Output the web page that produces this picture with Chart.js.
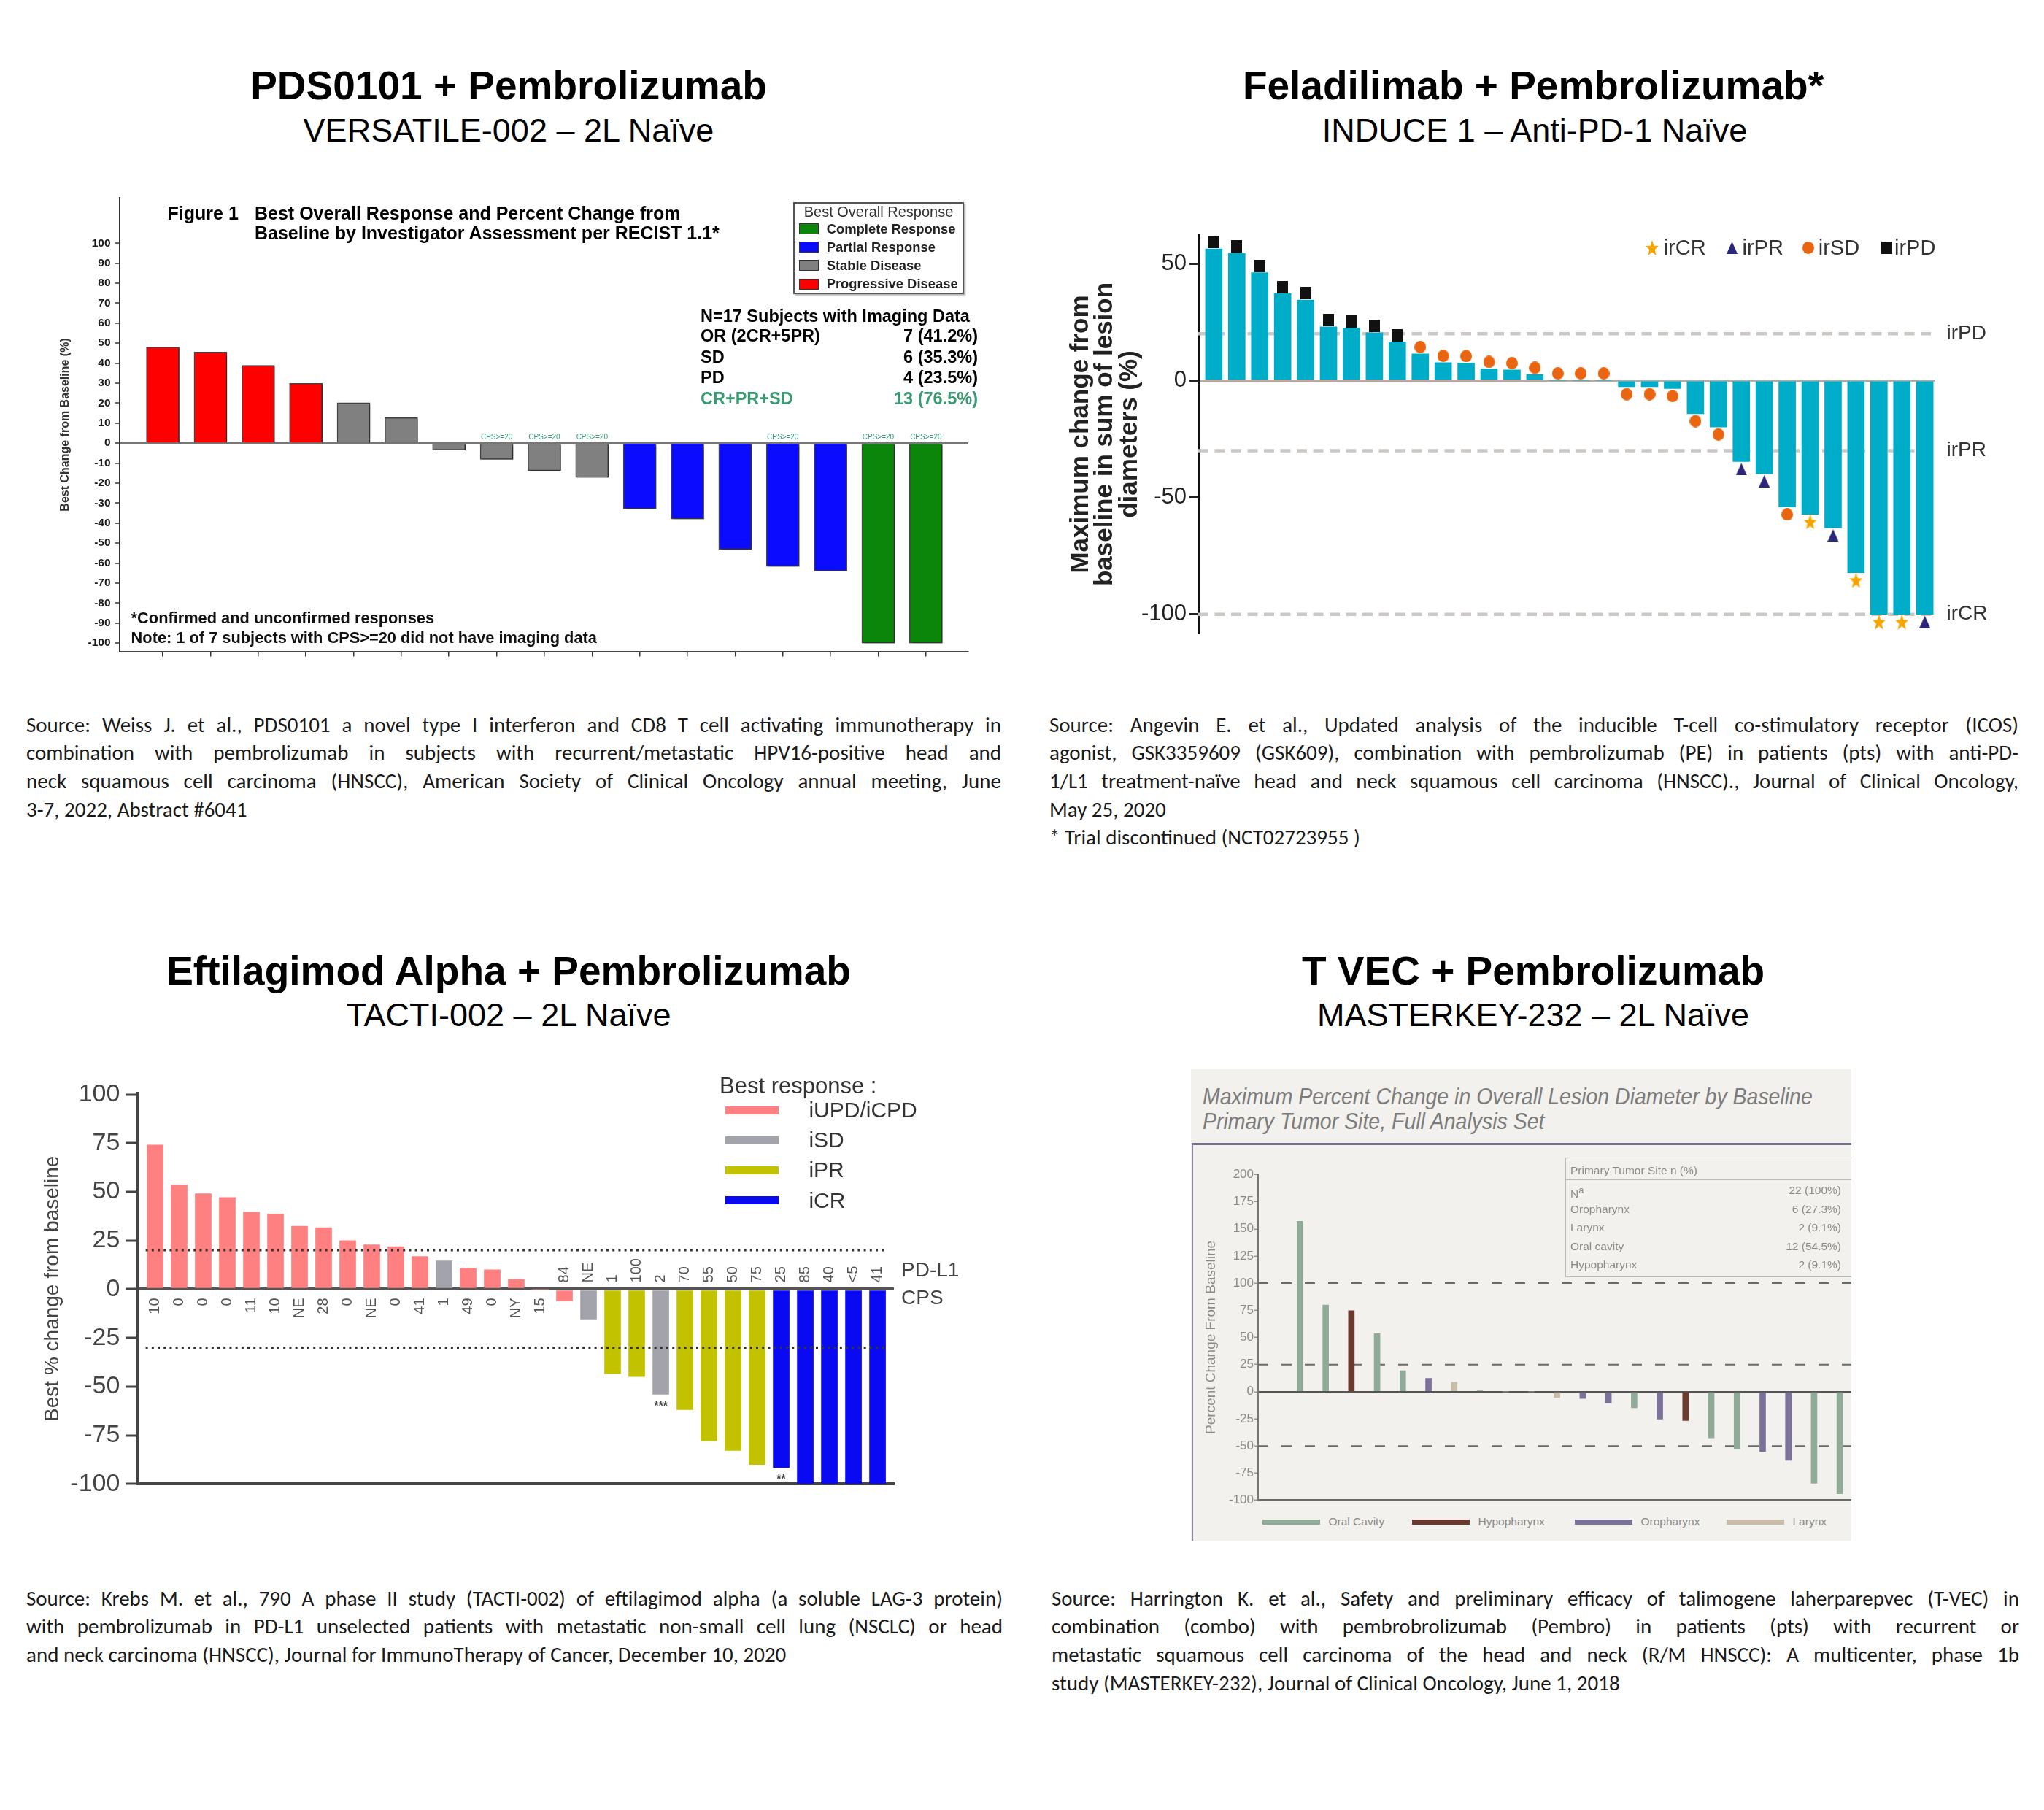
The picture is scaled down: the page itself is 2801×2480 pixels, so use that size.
<!DOCTYPE html>
<html lang="en">
<head>
<meta charset="utf-8">
<title>HNSCC waterfall plots</title>
<script src="https://cdn.jsdelivr.net/npm/chart.js@4.4.1/dist/chart.umd.min.js"></script>
<style>
  html, body { margin: 0; padding: 0; background: #fff; }
  body { position: relative; width: 2801px; height: 2480px; overflow: hidden;
         font-family: "Liberation Sans", Arial, sans-serif; color: #000; }
  .abs { position: absolute; white-space: nowrap; }
  canvas { position: absolute; }
  .title { font-size: 55px; font-weight: bold; line-height: 1; transform: translateX(-50%); }
  .subtitle { font-size: 45px; line-height: 1; transform: translateX(-50%); }
  .src { position: absolute; font-family: Carlito, Lato, "Liberation Sans", sans-serif; font-size: 29px; color: #1a1a1a; }
  .src div { height: 38.7px; line-height: 38.7px; white-space: nowrap; }
  .fig { font: bold 25px "Liberation Sans", Arial, sans-serif; line-height: 30px; }
  .b23 { font: bold 23.5px "Liberation Sans", Arial, sans-serif; line-height: 28.2px; }
  .stat { left: 960px; width: 380px; display: flex; justify-content: space-between; }
  .foot { left: 179.6px; font: bold 21.8px "Liberation Sans", Arial, sans-serif; line-height: 26.2px; color: #111; }
  #tvecBox { position: absolute; left: 1632px; top: 1465px; width: 905px; height: 646px; overflow: hidden; background: #f2f1ed; }
  .t4 { color: #8a8a8a; font-size: 15.5px; line-height: 18.6px; }
  .t4title { font-size: 32px; line-height: 38.4px; font-style: italic; color: #7c7c7c; transform: scaleX(0.89); transform-origin: left center; }
</style>
</head>
<body>

<!-- headings -->
<div class="abs title" style="left:697px; top:90px">PDS0101 + Pembrolizumab</div>
<div class="abs subtitle" style="left:697px; top:156px">VERSATILE-002 – 2L Naïve</div>
<div class="abs title" style="left:2101px; top:90px">Feladilimab + Pembrolizumab*</div>
<div class="abs subtitle" style="left:2103px; top:156px">INDUCE 1 – Anti-PD-1 Naïve</div>
<div class="abs title" style="left:697px; top:1303px">Eftilagimod Alpha + Pembrolizumab</div>
<div class="abs subtitle" style="left:697px; top:1368px">TACTI-002 – 2L Naïve</div>
<div class="abs title" style="left:2101px; top:1303px">T VEC + Pembrolizumab</div>
<div class="abs subtitle" style="left:2101px; top:1368px">MASTERKEY-232 – 2L Naïve</div>

<!-- chart 1 -->
<canvas id="pds" width="1300" height="660" style="left:60px; top:255px"></canvas>
<div class="abs fig" style="left:229.6px; top:276.6px">Figure 1</div>
<div class="abs fig" style="left:349px; top:276.6px">Best Overall Response and Percent Change from</div>
<div class="abs fig" style="left:349px; top:304px">Baseline by Investigator Assessment per RECIST 1.1*</div>
<div class="abs" id="pdsLegend" style="left:1087px; top:277px; width:230px; height:122px; border:2px solid #555; background:#fff; box-shadow:2px 2px 2px rgba(0,0,0,0.3)">
  <div class="abs" style="left:0; width:230px; text-align:center; top:-1.5px; font-size:20px; line-height:24px; color:#333">Best Overall Response</div>
</div>
<div class="abs b23" style="left:960px; top:418.5px">N=17 Subjects with Imaging Data</div>
<div class="abs b23 stat" style="top:445.9px"><span>OR (2CR+5PR)</span><span>7 (41.2%)</span></div>
<div class="abs b23 stat" style="top:474.9px"><span>SD</span><span>6 (35.3%)</span></div>
<div class="abs b23 stat" style="top:502.6px"><span>PD</span><span>4 (23.5%)</span></div>
<div class="abs b23 stat" style="top:531.9px; color:#3a9a72"><span>CR+PR+SD</span><span>13 (76.5%)</span></div>
<div class="abs foot" style="top:833.9px">*Confirmed and unconfirmed responses</div>
<div class="abs foot" style="top:861.4px">Note: 1 of 7 subjects with CPS&gt;=20 did not have imaging data</div>

<!-- chart 2 -->
<canvas id="felad" width="1350" height="590" style="left:1440px; top:300px"></canvas>
<div id="feladLegend"></div>

<!-- chart 3 -->
<canvas id="tacti" width="1320" height="600" style="left:20px; top:1470px"></canvas>
<div class="abs" style="left:986px; top:1469px; font-size:31px; line-height:37.2px; color:#333">Best response :</div>
<div id="tactiLegend"></div>

<!-- chart 4 -->
<div id="tvecBox">
  <div class="abs t4title" style="left:16px; top:17.8px">Maximum Percent Change in Overall Lesion Diameter by Baseline</div>
  <div class="abs t4title" style="left:16px; top:51.8px">Primary Tumor Site, Full Analysis Set</div>
  <div class="abs" style="left:1px; top:101px; width:1000px; height:542px; border-top:3px solid #75718c; border-left:2px solid #8a86a0; border-bottom:2px solid #8a86a0"></div>
  <canvas id="tvec" width="897" height="480" style="left:8px; top:125px"></canvas>
  <div class="abs t4" style="left:513px; top:121px; width:420px; height:162px; border:1.5px solid #bdb9b4">
    <div class="abs" style="left:0; top:29px; width:420px; border-top:1.5px solid #bdb9b4"></div>
    <div class="abs" style="left:6px; top:7.7px">Primary Tumor Site n (%)</div>
    <div id="tvecTable"></div>
  </div>
  <div id="tvecLegend"></div>
</div>

<!-- sources -->
<div class="src" style="left:36px; top:973.6px; width:1336px">
  <div>Source: Weiss J. et al., PDS0101 a novel type I interferon and CD8 T cell activating immunotherapy in</div>
  <div>combination with pembrolizumab in subjects with recurrent/metastatic HPV16-positive head and</div>
  <div>neck squamous cell carcinoma (HNSCC), American Society of Clinical Oncology annual meeting, June</div>
  <div class="end">3-7, 2022, Abstract #6041</div>
</div>
<div class="src" style="left:1438px; top:973.6px; width:1328px">
  <div>Source: Angevin E. et al., Updated analysis of the inducible T-cell co-stimulatory receptor (ICOS)</div>
  <div>agonist, GSK3359609 (GSK609), combination with pembrolizumab (PE) in patients (pts) with anti-PD-</div>
  <div>1/L1 treatment-naïve head and neck squamous cell carcinoma (HNSCC)., Journal of Clinical Oncology,</div>
  <div class="end">May 25, 2020</div>
  <div class="end">* Trial discontinued (NCT02723955 )</div>
</div>
<div class="src" style="left:36px; top:2170.6px; width:1338px">
  <div>Source: Krebs M. et al., 790 A phase II study (TACTI-002) of eftilagimod alpha (a soluble LAG-3 protein)</div>
  <div>with pembrolizumab in PD-L1 unselected patients with metastatic non-small cell lung (NSCLC) or head</div>
  <div class="end">and neck carcinoma (HNSCC), Journal for ImmunoTherapy of Cancer, December 10, 2020</div>
</div>
<div class="src" style="left:1441px; top:2170.6px; width:1326px">
  <div>Source: Harrington K. et al., Safety and preliminary efficacy of talimogene laherparepvec (T-VEC) in</div>
  <div>combination (combo) with pembrobrolizumab (Pembro) in patients (pts) with recurrent or</div>
  <div>metastatic squamous cell carcinoma of the head and neck (R/M HNSCC): A multicenter, phase 1b</div>
  <div class="end">study (MASTERKEY-232), Journal of Clinical Oncology, June 1, 2018</div>
</div>

<script>
// ---- data: PDS0101 / VERSATILE-002
const pdsChange = [48, 45.6, 38.9, 29.9, 20.2, 12.7, -3.5, -8.1, -13.8, -17.2, -32.9, -38, -53.1, -61.7, -64, -100, -100];
const pdsResponse = ['PD', 'PD', 'PD', 'PD', 'SD', 'SD', 'SD', 'SD', 'SD', 'SD', 'PR', 'PR', 'PR', 'PR', 'PR', 'CR', 'CR'];
const pdsCps20 = [0, 0, 0, 0, 0, 0, 0, 1, 1, 1, 0, 0, 0, 1, 0, 1, 1];
const pdsTicks = [-100, -90, -80, -70, -60, -50, -40, -30, -20, -10, 0, 10, 20, 30, 40, 50, 60, 70, 80, 90, 100];
const pdsLegendKeys = ['CR', 'PR', 'SD', 'PD'];
const pdsLegendLabels = ['Complete Response', 'Partial Response', 'Stable Disease', 'Progressive Disease'];

// ---- data: feladilimab / INDUCE 1
const feladChange = [56.2, 54.4, 46.1, 37.1, 34.4, 22.9, 22.4, 20.4, 16.5, 11.4, 7.6, 7.5, 5, 4.5, 2.5, 0, 0, 0,
  -2.7, -2.7, -3.5, -14.2, -19.9, -34.7, -39.9, -54.1, -57.2, -63, -82.2, -100, -100, -100];
const feladResponse = ['irPD', 'irPD', 'irPD', 'irPD', 'irPD', 'irPD', 'irPD', 'irPD', 'irPD',
  'irSD', 'irSD', 'irSD', 'irSD', 'irSD', 'irSD', 'irSD', 'irSD', 'irSD', 'irSD', 'irSD', 'irSD', 'irSD', 'irSD',
  'irPR', 'irPR', 'irSD', 'irCR', 'irPR', 'irCR', 'irCR', 'irCR', 'irPR'];
const feladTicks = [-100, -50, 0, 50];
const feladThresholds = [20, -30, -100];
const feladThresholdLabels = ['irPD', 'irPR', 'irCR'];
const feladLegendKeys = ['irCR', 'irPR', 'irSD', 'irPD'];

// ---- data: eftilagimod / TACTI-002
const tactiChange = [74.1, 53.7, 49.1, 47.1, 39.6, 38.7, 32.4, 31.6, 25, 22.8, 21.9, 16.8, 14.6, 10.7, 10, 5, 0,
  -6, -15.4, -43.4, -44.9, -54, -61.8, -77.9, -82.8, -90.1, -91.6, -100, -100, -100, -100];
const tactiResponse = ['iUPD/iCPD', 'iUPD/iCPD', 'iUPD/iCPD', 'iUPD/iCPD', 'iUPD/iCPD', 'iUPD/iCPD', 'iUPD/iCPD',
  'iUPD/iCPD', 'iUPD/iCPD', 'iUPD/iCPD', 'iUPD/iCPD', 'iUPD/iCPD', 'iSD', 'iUPD/iCPD', 'iUPD/iCPD', 'iUPD/iCPD',
  'iUPD/iCPD', 'iUPD/iCPD', 'iSD', 'iPR', 'iPR', 'iSD', 'iPR', 'iPR', 'iPR', 'iPR', 'iCR', 'iCR', 'iCR', 'iCR', 'iCR'];
const tactiCps = ['10', '0', '0', '0', '11', '10', 'NE', '28', '0', 'NE', '0', '41', '1', '49', '0', 'NY', '15',
  '84', 'NE', '1', '100', '2', '70', '55', '50', '75', '25', '85', '40', '<5', '41'];
const tactiNotes = [[21, '***'], [26, '**']];
const tactiTicks = [-100, -75, -50, -25, 0, 25, 50, 75, 100];
const tactiThresholds = [20, -30];
const tactiLegendKeys = ['iUPD/iCPD', 'iSD', 'iPR', 'iCR'];

// ---- data: T-VEC / MASTERKEY-232
const tvecChange = [157, 79.8, 74.7, 53.4, 19.3, 12.2, 8.8, 0.9, 0, 0, -5.4, -6.3, -10.5, -14.8, -25.3, -26.7,
  -42.6, -52.7, -55.1, -63.3, -84.5, -94];
const tvecSite = ['Oral Cavity', 'Oral Cavity', 'Hypopharynx', 'Oral Cavity', 'Oral Cavity', 'Oropharynx', 'Larynx',
  'Oral Cavity', 'Oral Cavity', 'Oral Cavity', 'Larynx', 'Oropharynx', 'Oropharynx', 'Oral Cavity', 'Oropharynx',
  'Hypopharynx', 'Oral Cavity', 'Oral Cavity', 'Oropharynx', 'Oropharynx', 'Oral Cavity', 'Oral Cavity'];
const tvecTicks = [-100, -75, -50, -25, 0, 25, 50, 75, 100, 125, 150, 175, 200];
const tvecThresholds = [100, 25, -50];
const tvecLegendKeys = ['Oral Cavity', 'Hypopharynx', 'Oropharynx', 'Larynx'];
const tvecTableLabels = ['N<sup>a</sup>', 'Oropharynx', 'Larynx', 'Oral cavity', 'Hypopharynx'];
const tvecTableValues = ['22 (100%)', '6 (27.3%)', '2 (9.1%)', '12 (54.5%)', '2 (9.1%)'];

// ---- styles
const pdsColors = { CR: '#0b860b', PR: '#0b0bff', SD: '#808080', PD: '#ff0000' };
const feladMarkers = {
  irCR: { kind: 'star', w: 18, h: 21, color: '#f6a500' },
  irPR: { kind: 'triangle', w: 15, h: 17, color: '#2b2678' },
  irSD: { kind: 'circle', w: 16, h: 17, color: '#ea6510' },
  irPD: { kind: 'square', w: 15, h: 17, color: '#111111' }
};
const tactiColors = { 'iUPD/iCPD': '#ff8080', iSD: '#a3a3ab', iPR: '#c2c200', iCR: '#0a0af2' };
const tvecColors = { 'Oral Cavity': '#8fab98', Hypopharynx: '#6a3a2e', Oropharynx: '#7c7199', Larynx: '#c9bca9' };

const SANS = '"Liberation Sans", Arial, sans-serif';
Chart.defaults.animation = false;
Chart.defaults.font.family = SANS;

function fixWidth(w) { return s => { s.width = w; }; }
function fixHeight(h) { return s => { s.height = h; }; }
function useTicks(values) { return s => { s.ticks = values.map(v => ({ value: v })); }; }
function onlyZero(color) { return c => (c.tick && c.tick.value === 0 ? color : 'rgba(0,0,0,0)'); }
function points(values) { return values.map((v, i) => ({ x: i, y: v })); }
function hLine(y, x0, x1) { return [{ x: x0, y: y }, { x: x1, y: y }]; }
function place(parent, css, text, html) {
  const d = document.createElement('div');
  d.className = 'abs';
  d.style.cssText = css;
  if (html) d.innerHTML = html; else if (text) d.textContent = text;
  parent.appendChild(d);
  return d;
}

function markerImage(m) {
  const c = document.createElement('canvas');
  c.width = m.w; c.height = m.h;
  const g = c.getContext('2d');
  g.fillStyle = m.color;
  g.beginPath();
  if (m.kind === 'square') g.rect(0, 0, m.w, m.h);
  else if (m.kind === 'circle') g.ellipse(m.w / 2, m.h / 2, m.w / 2, m.h / 2, 0, 0, 2 * Math.PI);
  else if (m.kind === 'triangle') { g.moveTo(m.w / 2, 0); g.lineTo(m.w, m.h); g.lineTo(0, m.h); g.closePath(); }
  else {
    const rx = m.w / 1.902, ry = m.h / 1.809;
    for (let k = 0; k < 10; k++) {
      const r = k % 2 ? 0.42 : 1, a = -Math.PI / 2 + k * Math.PI / 5;
      g.lineTo(m.w / 2 + r * rx * Math.cos(a), ry + r * ry * Math.sin(a));
    }
    g.closePath();
  }
  g.fill();
  return c;
}

// ================= chart 1 =================
const pdsPlugin = {
  id: 'pdsExtras',
  beforeDatasetsDraw(chart) {
    const c = chart.ctx;
    c.save();
    c.shadowColor = 'rgba(0,0,0,0.35)'; c.shadowBlur = 3; c.shadowOffsetX = 3; c.shadowOffsetY = 2;
  },
  afterDatasetsDraw(chart) {
    const { ctx, scales: { x, y } } = chart;
    ctx.restore();
    ctx.save();
    ctx.font = '10px ' + SANS;
    ctx.fillStyle = '#3a9a72';
    ctx.textAlign = 'center';
    ctx.textBaseline = 'bottom';
    pdsCps20.forEach((f, i) => { if (f) ctx.fillText('CPS>=20', x.getPixelForValue(i), y.getPixelForValue(0) - 3); });
    ctx.restore();
  }
};

new Chart(document.getElementById('pds'), {
  type: 'bar',
  data: { datasets: [{
    data: points(pdsChange),
    backgroundColor: pdsResponse.map(r => pdsColors[r]),
    borderColor: 'rgba(35,35,35,0.85)', borderWidth: 1.5, barThickness: 45
  }] },
  options: {
    responsive: false, events: [],
    layout: { padding: { left: 0, top: 15.5, right: 33, bottom: 0 } },
    plugins: { legend: { display: false }, tooltip: { enabled: false } },
    scales: {
      x: { type: 'linear', min: -0.91, max: 16.89, offset: false,
           ticks: { display: false },
           grid: { offset: false, drawOnChartArea: false, tickLength: 6, color: '#333', lineWidth: 1.5 },
           border: { color: '#444', width: 2 },
           afterBuildTicks: useTicks(pdsChange.map((v, i) => i)), afterFit: fixHeight(21.6) },
      y: { min: -104.5, max: 122.9,
           ticks: { font: { size: 15.5, weight: 'bold' }, color: '#1a1a1a', padding: 6 },
           grid: { color: onlyZero('#777'), lineWidth: 2, tickColor: '#333', tickLength: 6, tickWidth: 1.5 },
           border: { color: '#333', width: 2 },
           title: { display: true, text: 'Best Change from Baseline (%)', font: { size: 16, weight: 'bold' }, color: '#333', padding: { top: 20.4, bottom: 0 } },
           afterBuildTicks: useTicks(pdsTicks), afterFit: fixWidth(103.6) }
    }
  },
  plugins: [pdsPlugin]
});

const pdsLegend = document.getElementById('pdsLegend');
pdsLegendKeys.forEach((k, i) => {
  const cy = 34.5 + i * 25.2;
  place(pdsLegend, `left:5.8px; top:${cy - 7.5}px; width:27px; height:15px; background:${pdsColors[k]}; border:1px solid #333; box-sizing:border-box`);
  place(pdsLegend, `left:43.7px; top:${cy - 11}px; font:bold 18.4px ${SANS}; line-height:22px; color:#222`, pdsLegendLabels[i]);
});

// ================= chart 2 =================
const feladX0 = -0.68, feladX1 = 31.44;
const feladPlugin = {
  id: 'feladText',
  afterDatasetsDraw(chart) {
    const { ctx, chartArea, scales: { y } } = chart;
    ctx.save();
    ctx.font = '28px ' + SANS;
    ctx.fillStyle = '#333';
    ctx.textBaseline = 'middle';
    feladThresholds.forEach((t, i) => ctx.fillText(feladThresholdLabels[i], chartArea.right + 16, y.getPixelForValue(t)));
    ctx.restore();
  }
};

const feladMarkerSets = feladLegendKeys.map(key => ({
  type: 'scatter',
  data: feladChange.map((v, i) => ({ x: i, y: v > 0 ? v + 2.9 : v < 0 ? v - 3.2 : 3.0, r: feladResponse[i] }))
                   .filter(p => p.r === key),
  pointStyle: markerImage(feladMarkers[key]),
  pointRadius: 9,
  order: 1
}));

new Chart(document.getElementById('felad'), {
  type: 'bar',
  data: { datasets: [
    ...feladThresholds.map(t => ({ type: 'line', data: hLine(t, feladX0, feladX1), borderColor: '#cbc7c4', borderWidth: 4.5,
                                   borderDash: [14, 8.5], pointRadius: 0, order: 3 })),
    { type: 'bar', data: points(feladChange), backgroundColor: '#00adc9', barThickness: 23, order: 2 },
    ...feladMarkerSets
  ] },
  options: {
    responsive: false, events: [],
    layout: { padding: { left: 0, top: 20.6, right: 138.5, bottom: 18.3 } },
    plugins: { legend: { display: false }, tooltip: { enabled: false } },
    scales: {
      x: { type: 'linear', display: false, min: feladX0, max: feladX1, offset: false, grid: { offset: false } },
      y: { min: -108, max: 62,
           ticks: { font: { size: 31 }, color: '#222', padding: 4 },
           grid: { color: onlyZero('#b3aca6'), lineWidth: 3, tickColor: '#222', tickLength: 12, tickWidth: 3 },
           border: { color: '#111', width: 3 },
           title: { display: true, text: ['Maximum change from', 'baseline in sum of lesion', 'diameters (%)'],
                    font: { size: 35, weight: 'bold', lineHeight: '33.5px' }, color: '#222', padding: { top: 24.25, bottom: 0 } },
           afterBuildTicks: useTicks(feladTicks), afterFit: fixWidth(202) }
    }
  },
  plugins: [feladPlugin]
});

const feladLegend = document.getElementById('feladLegend');
const feladLegendSymbolX = [2263.5, 2373.7, 2478, 2585];
const feladLegendTextX = [2279.6, 2387.5, 2491.7, 2596];
feladLegendKeys.forEach((k, i) => {
  const m = feladMarkers[k];
  const img = markerImage(m);
  img.style.left = (feladLegendSymbolX[i] - m.w / 2) + 'px';
  img.style.top = (339.7 - m.h / 2) + 'px';
  feladLegend.appendChild(img);
  place(feladLegend, `left:${feladLegendTextX[i]}px; top:${339.7 - 17.4}px; font-size:29px; line-height:34.8px; color:#333`, k);
});

// ================= chart 3 =================
const tactiX0 = -0.70, tactiX1 = 30.68;
const tactiPlugin = {
  id: 'tactiText',
  afterDatasetsDraw(chart) {
    const { ctx, chartArea, scales: { x, y } } = chart;
    const y0 = y.getPixelForValue(0);
    ctx.save();
    ctx.fillStyle = '#555';
    ctx.font = '20px ' + SANS;
    ctx.textBaseline = 'middle';
    tactiCps.forEach((lab, i) => {
      const neg = tactiChange[i] < 0;
      ctx.save();
      ctx.translate(x.getPixelForValue(i), neg ? y0 - 9 : y0 + 12);
      ctx.rotate(-Math.PI / 2);
      ctx.textAlign = neg ? 'left' : 'right';
      ctx.fillText(lab, 0, 0);
      ctx.restore();
    });
    ctx.font = '28px ' + SANS;
    ctx.fillStyle = '#444';
    ctx.textAlign = 'left';
    ctx.fillText('PD-L1', chartArea.right + 10, y0 - 25);
    ctx.fillText('CPS', chartArea.right + 10, y0 + 13);
    ctx.font = 'bold 16px ' + SANS;
    ctx.textAlign = 'center';
    ctx.textBaseline = 'top';
    tactiNotes.forEach(([i, s]) => ctx.fillText(s, x.getPixelForValue(i), y.getPixelForValue(tactiChange[i]) + 9));
    ctx.restore();
  }
};

new Chart(document.getElementById('tacti'), {
  type: 'bar',
  data: { datasets: [
    ...tactiThresholds.map(t => ({ type: 'line', data: hLine(t, -0.39, 30.41), borderColor: '#333', borderWidth: 3,
                                   borderDash: [3, 5.2], pointRadius: 0, order: 0 })),
    { type: 'bar', data: points(tactiChange), backgroundColor: tactiResponse.map(r => tactiColors[r]), barThickness: 22, order: 1 }
  ] },
  options: {
    responsive: false, events: [],
    layout: { padding: { left: 0, top: 25.5, right: 115, bottom: 0 } },
    plugins: { legend: { display: false }, tooltip: { enabled: false } },
    scales: {
      x: { type: 'linear', min: tactiX0, max: tactiX1, offset: false,
           ticks: { display: false }, grid: { display: false, offset: false },
           border: { color: '#444', width: 4 }, afterFit: fixHeight(36.8) },
      y: { min: -100, max: 100.5,
           ticks: { font: { size: 34 }, color: '#444', padding: 8 },
           grid: { color: onlyZero('#555'), lineWidth: 4, tickColor: '#444', tickLength: 17, tickWidth: 3 },
           border: { color: '#444', width: 4 },
           title: { display: true, text: 'Best % change from baseline', font: { size: 28 }, color: '#444', padding: { top: 35.6, bottom: 0 } },
           afterBuildTicks: useTicks(tactiTicks), afterFit: fixWidth(169.4) }
    }
  },
  plugins: [tactiPlugin]
});

const tactiLegend = document.getElementById('tactiLegend');
tactiLegendKeys.forEach((k, i) => {
  const cy = 1521 + i * 41.2;
  place(tactiLegend, `left:993.5px; top:${cy - 5.5}px; width:73.5px; height:11px; background:${tactiColors[k]}`);
  place(tactiLegend, `left:1108.4px; top:${cy - 18}px; font-size:30px; line-height:36px; color:#333`, k);
});

// ================= chart 4 =================
const tvecX0 = -1.63, tvecX1 = 21.45;
new Chart(document.getElementById('tvec'), {
  type: 'bar',
  data: { datasets: [
    ...tvecThresholds.map(t => ({ type: 'line', data: hLine(t, tvecX0, tvecX1), borderColor: '#6a6a6a', borderWidth: 2,
                                  borderDash: [14, 18], pointRadius: 0, order: 2 })),
    { type: 'bar', data: points(tvecChange), backgroundColor: tvecSite.map(s => tvecColors[s]), barThickness: 8, order: 1 }
  ] },
  options: {
    responsive: false, events: [],
    layout: { padding: { left: 0, top: 19.4, right: 0, bottom: 0 } },
    plugins: { legend: { display: false }, tooltip: { enabled: false } },
    scales: {
      x: { type: 'linear', min: tvecX0, max: tvecX1, offset: false,
           ticks: { display: false }, grid: { display: false, offset: false },
           border: { color: '#6a6a6a', width: 2.5 }, afterFit: fixHeight(14.5) },
      y: { min: -100, max: 200,
           ticks: { font: { size: 17 }, color: '#8a8a8a', padding: 1 },
           grid: { color: onlyZero('#555'), lineWidth: 2.5, tickColor: '#999', tickLength: 5, tickWidth: 1.5 },
           border: { color: '#777', width: 2 },
           title: { display: true, text: 'Percent Change From Baseline', font: { size: 19 }, color: '#8a8a8a', padding: { top: 8, bottom: 0 } },
           afterBuildTicks: useTicks(tvecTicks), afterFit: fixWidth(84) }
    }
  }
});

const tvecTable = document.getElementById('tvecTable');
tvecTableLabels.forEach((lab, i) => {
  const cy = 44.5 + i * 25.55;
  place(tvecTable, `left:6px; top:${cy - 9.3}px`, null, lab);
  place(tvecTable, `left:0; width:377px; text-align:right; top:${cy - 9.3}px`, tvecTableValues[i]);
});

const tvecLegend = document.getElementById('tvecLegend');
const tvecSwatchX = [98, 303, 526, 734];
tvecLegendKeys.forEach((k, i) => {
  place(tvecLegend, `left:${tvecSwatchX[i]}px; top:616.5px; width:79px; height:7px; background:${tvecColors[k]}`);
  place(tvecLegend, `left:${tvecSwatchX[i] + 90.5}px; top:610.7px`, k).className = 'abs t4';
});

// ---- justify the source lines exactly to their block width
document.querySelectorAll('.src div').forEach(line => {
  if (line.classList.contains('end')) return;
  const target = line.parentElement.clientWidth;
  const r = document.createRange();
  r.selectNodeContents(line);
  const natural = r.getBoundingClientRect().width;
  const gaps = (line.textContent.trim().match(/ /g) || []).length;
  if (gaps) line.style.wordSpacing = ((target - natural) / gaps) + 'px';
});
</script>
</body>
</html>
